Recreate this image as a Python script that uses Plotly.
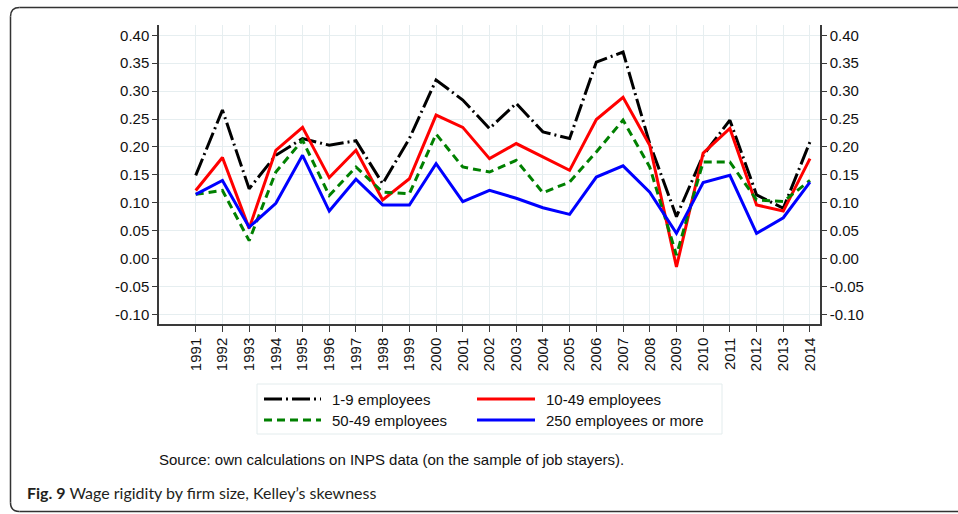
import plotly.graph_objects as go

# ---------------- data ----------------
years = list(range(1991, 2015))
year_labels = [str(y) for y in years]

emp_1_9 = [0.149, 0.266, 0.125, 0.185, 0.215, 0.203, 0.211, 0.134, 0.215, 0.320,
           0.284, 0.233, 0.278, 0.227, 0.215, 0.352, 0.370, 0.206, 0.075, 0.185,
           0.248, 0.114, 0.090, 0.209]
emp_10_49 = [0.122, 0.181, 0.054, 0.194, 0.235, 0.145, 0.194, 0.105, 0.143, 0.257,
             0.235, 0.179, 0.206, 0.182, 0.158, 0.249, 0.289, 0.203, -0.015, 0.189,
             0.233, 0.096, 0.085, 0.179]
emp_50_249 = [0.115, 0.122, 0.032, 0.155, 0.212, 0.113, 0.164, 0.119, 0.116, 0.223,
              0.164, 0.155, 0.176, 0.118, 0.137, 0.191, 0.248, 0.164, 0.006, 0.173,
              0.173, 0.105, 0.102, 0.140]
emp_250 = [0.115, 0.140, 0.056, 0.099, 0.185, 0.085, 0.142, 0.096, 0.096, 0.170,
           0.102, 0.122, 0.108, 0.091, 0.079, 0.146, 0.166, 0.119, 0.045, 0.136,
           0.149, 0.045, 0.073, 0.137]

series_names = ["1-9 employees", "10-49 employees", "50-49 employees", "250 employees or more"]
y_ticks = [-0.10, -0.05, 0.00, 0.05, 0.10, 0.15, 0.20, 0.25, 0.30, 0.35, 0.40]
y_tick_labels = ["-0.10", "-0.05", "0.00", "0.05", "0.10", "0.15", "0.20", "0.25", "0.30", "0.35", "0.40"]
source_text = "Source: own calculations on INPS data (on the sample of job stayers)."
caption_text = "<b>Fig. 9</b> Wage rigidity by firm size, Kelley\u2019s skewness"

# ---------------- layout geometry ----------------
W, H = 958, 514
L, R, T, B = 159, 138, 25, 190
PW, PH = W - L - R, H - T - B


def px(x):
    return (x - L) / PW


def py(y):
    return (H - B - y) / PH


styles = [
    dict(color="#000000", width=3, dash="18px,4px,2px,4px"),
    dict(color="#ff0000", width=3, dash="solid"),
    dict(color="#008000", width=3, dash="8px,5px"),
    dict(color="#0000ff", width=3, dash="solid"),
]
all_series = [emp_1_9, emp_10_49, emp_50_249, emp_250]

fig = go.Figure()
for name, vals, st in zip(series_names, all_series, styles):
    fig.add_trace(go.Scatter(x=years, y=vals, mode="lines", name=name,
                             line=st, showlegend=False))
# invisible trace to anchor the right-hand axis
fig.add_trace(go.Scatter(x=years, y=emp_250, yaxis="y2", mode="lines",
                         line=dict(width=0), opacity=0, showlegend=False,
                         hoverinfo="skip"))

tick_font = dict(family="Liberation Sans, Arial, sans-serif", size=15, color="#111111")
grid_col = "#e6eef0"
axis_col = "#3a3a3a"
yr = [-0.1174, 0.4185]

fig.update_layout(
    width=W, height=H,
    margin=dict(l=L, r=R, t=T, b=B),
    paper_bgcolor="white", plot_bgcolor="white",
    showlegend=False,
    xaxis=dict(range=[1989.625, 2014.375], tickvals=years, ticktext=year_labels,
               tickangle=-90, showgrid=True, gridcolor=grid_col, gridwidth=1,
               showline=True, linecolor=axis_col, linewidth=1.5,
               ticks="outside", ticklen=6, tickcolor=axis_col, tickwidth=1.2,
               tickfont=tick_font, zeroline=False),
    yaxis=dict(range=yr, tickvals=y_ticks, ticktext=y_tick_labels,
               showgrid=True, gridcolor=grid_col, gridwidth=1,
               showline=True, linecolor=axis_col, linewidth=1.5,
               ticks="outside", ticklen=5, tickcolor=axis_col, tickwidth=1.2,
               tickfont=tick_font, zeroline=False),
    yaxis2=dict(range=yr, tickvals=y_ticks, ticktext=y_tick_labels,
                overlaying="y", side="right", showgrid=False,
                showline=True, linecolor=axis_col, linewidth=1.5,
                ticks="outside", ticklen=5, tickcolor=axis_col, tickwidth=1.2,
                tickfont=tick_font, zeroline=False),
)

shapes = []
# outer rounded frame (open on the right: it continues beyond the picture)
fx, ftop, fbot, rad = 10.5, 7.5, 511.5, 9
frame_line = dict(color="#333333", width=1.5)
shapes.append(dict(type="line", xref="paper", yref="paper",
                   x0=px(fx + rad), x1=px(W + 5), y0=py(ftop), y1=py(ftop),
                   line=frame_line))
shapes.append(dict(type="line", xref="paper", yref="paper",
                   x0=px(fx + rad), x1=px(W + 5), y0=py(fbot), y1=py(fbot),
                   line=frame_line))
shapes.append(dict(type="line", xref="paper", yref="paper",
                   x0=px(fx), x1=px(fx), y0=py(ftop + rad), y1=py(fbot - rad),
                   line=frame_line))
for ya, yb in [(ftop + rad, ftop), (fbot - rad, fbot)]:
    shapes.append(dict(type="path", xref="paper", yref="paper",
                       path=f"M{px(fx)},{py(ya)} Q{px(fx)},{py(yb)} {px(fx + rad)},{py(yb)}",
                       line=frame_line))
# legend box
shapes.append(dict(type="rect", xref="paper", yref="paper",
                   x0=px(257), x1=px(722), y0=py(384), y1=py(434),
                   line=dict(color="#e3eced", width=1), fillcolor="white"))

annotations = []
leg_pos = [(264, 321, 331, 399), (477, 535, 545, 399),
           (264, 321, 331, 420), (477, 535, 545, 420)]
for name, st, (x0, x1, xt, yy) in zip(series_names, styles, leg_pos):
    shapes.append(dict(type="line", xref="paper", yref="paper",
                       x0=px(x0), x1=px(x1), y0=py(yy), y1=py(yy),
                       line=dict(color=st["color"], width=3, dash=st["dash"])))
    annotations.append(dict(text=name, xref="paper", yref="paper",
                            x=px(xt - 1), y=py(yy), xanchor="left", yanchor="middle",
                            showarrow=False, font=tick_font))

annotations.append(dict(text=source_text, xref="paper", yref="paper",
                        x=px(157), y=py(459), xanchor="left", yanchor="middle",
                        showarrow=False,
                        font=dict(family="Liberation Sans, Arial, sans-serif",
                                  size=15, color="#111111")))
annotations.append(dict(text=caption_text, xref="paper", yref="paper",
                        x=px(25), y=py(493), xanchor="left", yanchor="middle",
                        showarrow=False,
                        font=dict(family="Lato, Open Sans, sans-serif",
                                  size=16, color="#231f20")))

fig.update_layout(shapes=shapes, annotations=annotations)
fig.write_html("out.html",
               config={"displayModeBar": False},
               post_script="document.body.style.margin='0';document.body.style.overflow='hidden';")
